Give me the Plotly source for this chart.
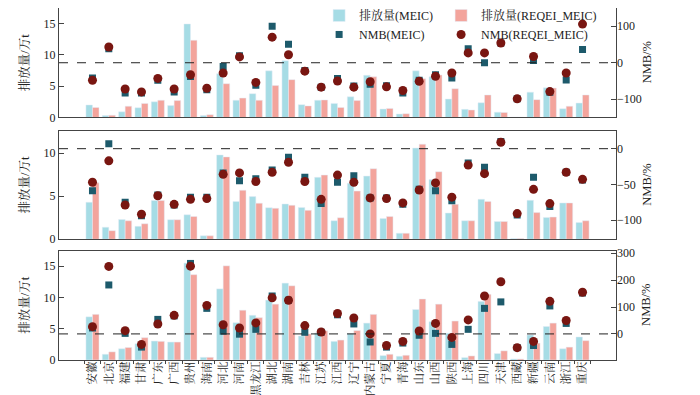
import plotly.graph_objects as go

provinces = ["安徽","北京","福建","甘肃","广东","广西","贵州","海南","河北","河南","黑龙江","湖北","湖南","吉林","江苏","江西","辽宁","内蒙古","宁夏","青海","山东","山西","陕西","上海","四川","天津","西藏","新疆","云南","浙江","重庆"]

# Panel 1
p1_meic = [2.0,0.3,0.9,1.55,2.5,1.9,14.95,0.3,7.0,2.75,3.8,7.45,9.07,2.05,2.75,2.25,3.3,6.75,1.35,0.55,7.45,6.5,2.95,1.3,2.35,0.85,0.05,4.05,4.75,1.4,2.3]
p1_req = [1.6,0.35,1.8,2.25,2.75,2.7,12.35,0.45,5.4,3.1,2.75,5.1,6.05,1.85,2.8,1.6,2.7,6.5,1.45,0.6,6.2,6.8,4.6,1.2,3.6,0.8,0.05,2.85,4.7,1.8,3.6]
p1_nmb_meic = [-42,38,-83,-83,-48,-80,-38,-74,-10,19,-62,100,51,-21,-67,-43,-64,-59,-63,-83,-48,-33,-42,38,0,54,-99,6,-81,-47,36]
p1_nmb_req = [-48,43,-72,-80,-43,-72,-33,-70,-28,16,-54,70,22,-23,-67,-50,-67,-52,-66,-76,-51,-37,-28,27,27,54,-99,17,-79,-28,106]

# Panel 2
p2_meic = [4.3,1.4,2.3,1.5,4.5,2.27,2.85,0.4,9.8,4.4,4.96,3.67,4.1,3.7,7.2,2.15,6.5,7.34,2.4,0.7,10.6,6.95,3.05,2.15,4.65,2.07,0.08,4.53,2.54,4.22,1.95]
p2_req = [6.56,1.0,2.15,1.8,4.5,2.27,2.65,0.4,9.57,5.7,4.2,3.6,3.95,3.36,7.46,2.5,5.6,8.2,2.65,0.7,11.05,7.85,4.06,2.15,4.4,2.07,0.08,3.1,2.58,4.22,2.15]
p2_nmb_meic = [-59,7,-75,-94,-65,-79,-68,-68,-34,-45,-42,-30,-12,-40,-77,-47,-38,-69,-69,-78,-57,-59,-73,-20,-26,10,-93,-40,-81,-33,-44]
p2_nmb_req = [-47,-17,-79,-92,-66,-78,-71,-70,-36,-34,-46,-33,-19,-46,-71,-37,-47,-69,-70,-76,-58,-48,-68,-23,-35,9,-91,-57,-77,-33,-43]

# Panel 3
p3_meic = [6.9,0.92,1.8,2.6,3.03,2.87,15.5,0.43,11.37,5.96,7.15,9.58,12.29,3.84,4.33,2.98,4.22,5.9,0.7,0.6,8.07,6.12,4.28,0.38,9.37,1.03,0.16,4.0,5.36,1.8,3.68]
p3_req = [7.3,1.3,2.0,3.57,2.98,2.87,13.64,0.43,15.05,7.96,6.77,8.93,11.86,4.17,4.66,3.19,4.71,7.3,0.92,0.76,9.75,8.93,6.23,0.65,10.5,1.46,0.16,2.7,5.9,2.06,3.09]
p3_nmb_meic = [22,182,2,-49,54,67,262,95,10,-1,17,141,125,6,6,71,37,-30,-49,-34,-5,2,-39,17,95,119,-51,-43,104,39,152]
p3_nmb_req = [27,251,12,-39,37,69,252,106,34,22,41,134,125,31,7,76,59,0,-43,-28,11,39,-13,52,141,194,-51,-28,121,50,155]

left_ranges = [[0,17.5],[0,12.6],[0,17.5]]
right_ranges = [[-150,150],[-127,25],[-97,310]]
left_ticks = [[0,5,10,15],[0,5,10],[0,5,10,15]]
right_ticks = [[-100,0,100],[-100,-50,0],[0,100,200,300]]
domains = [[0.689,1.0],[0.343,0.651],[0.0,0.311]]
left_title = "排放量/万t"
right_title = "NMB/%"

C_MEIC = "#A6DCE5"
C_REQ = "#F3A49C"
C_SQ = "#1D5A6B"
C_CI = "#791611"
FONT = "Liberation Serif, Noto Serif CJK SC, Noto Sans CJK SC"
AX = "#444444"
TXT = "#222222"

panels = [(p1_meic,p1_req,p1_nmb_meic,p1_nmb_req),
          (p2_meic,p2_req,p2_nmb_meic,p2_nmb_req),
          (p3_meic,p3_req,p3_nmb_meic,p3_nmb_req)]

fig = go.Figure()

for i,(m,r,nm,nr) in enumerate(panels):
    xa = "x" if i == 0 else f"x{i+1}"
    yl = "y" if i == 0 else f"y{2*i+1}"
    yr = f"y{2*i+2}"
    show = (i == 0)
    fig.add_trace(go.Bar(x=provinces, y=m, marker_color=C_MEIC, name="排放量(MEIC)",
                         xaxis=xa, yaxis=yl, showlegend=show, legend="legend", offsetgroup="a"))
    fig.add_trace(go.Bar(x=provinces, y=r, marker_color=C_REQ, name="排放量(REQEI_MEIC)",
                         xaxis=xa, yaxis=yl, showlegend=show, legend="legend2", offsetgroup="b"))
    fig.add_trace(go.Scatter(x=provinces, y=nm, mode="markers", name="NMB(MEIC)",
                             marker=dict(symbol="square", size=7, color=C_SQ),
                             xaxis=xa, yaxis=yr, showlegend=show, legend="legend"))
    fig.add_trace(go.Scatter(x=provinces, y=nr, mode="markers", name="NMB(REQEI_MEIC)",
                             marker=dict(symbol="circle", size=9, color=C_CI),
                             xaxis=xa, yaxis=yr, showlegend=show, legend="legend2"))

layout = dict(
    width=700, height=395,
    margin=dict(l=51, r=92, t=0, b=43, autoexpand=False),
    paper_bgcolor="white", plot_bgcolor="white",
    font=dict(family=FONT, size=12, color=TXT),
    barmode="group", bargap=0.2, bargroupgap=0,
    legend=dict(x=0.467, y=1.02, xanchor="left", yanchor="top", bgcolor="rgba(0,0,0,0)",
                font=dict(size=12), tracegroupgap=0, itemwidth=30),
    legend2=dict(x=0.686, y=1.02, xanchor="left", yanchor="top", bgcolor="rgba(0,0,0,0)",
                 font=dict(size=12), tracegroupgap=0, itemwidth=30),
)

annotations = []
for i in range(3):
    xk = "xaxis" if i == 0 else f"xaxis{i+1}"
    ylk = "yaxis" if i == 0 else f"yaxis{2*i+1}"
    yrk = f"yaxis{2*i+2}"
    yl_id = "y" if i == 0 else f"y{2*i+1}"
    x_id = "x" if i == 0 else f"x{i+1}"
    layout[xk] = dict(domain=[0,1], anchor=yl_id, type="category",
                      categoryorder="array", categoryarray=provinces, automargin=False,
                      showline=True, linecolor=AX, linewidth=1, mirror=True,
                      showgrid=False, zeroline=False,
                      showticklabels=(i == 2),
                      ticks="outside" if i == 2 else "", tickson="boundaries", ticklen=3, tickcolor=AX,
                      tickfont=dict(size=11.5, color=TXT), tickangle=-90, ticklabelstandoff=-4)
    layout[ylk] = dict(domain=domains[i], anchor=x_id, range=left_ranges[i], automargin=False,
                       tickvals=left_ticks[i], ticks="inside", ticklen=5, tickcolor=AX,
                       showline=True, linecolor=AX, linewidth=1, mirror=True,
                       showgrid=False, zeroline=False, tickfont=dict(size=12))
    layout[yrk] = dict(overlaying=yl_id, side="right", anchor=x_id, range=right_ranges[i],
                       automargin=False,
                       tickvals=right_ticks[i], ticks="inside", ticklen=5, tickcolor=AX,
                       showline=False, showgrid=False, zeroline=False, tickfont=dict(size=12))
    annotations.append(dict(text=left_title, xref="paper", yref=f"{yl_id} domain",
                            x=-0.062, y=0.5, xanchor="center", yanchor="middle",
                            textangle=-90, showarrow=False, font=dict(size=12.5, color=TXT)))
    annotations.append(dict(text=right_title, xref="paper", yref=f"{yl_id} domain",
                            x=1.055, y=0.5, xanchor="center", yanchor="middle",
                            textangle=-90, showarrow=False, font=dict(size=12.5, color=TXT)))

layout["annotations"] = annotations
fig.update_layout(**layout)

for i in range(3):
    yr_id = f"y{2*i+2}"
    x_id = "x" if i == 0 else f"x{i+1}"
    fig.add_shape(type="line", xref=f"{x_id} domain", yref=yr_id, x0=0, x1=1, y0=0, y1=0,
                  line=dict(color=TXT, width=1, dash="dash"), layer="above")

fig.write_html("out.html")
